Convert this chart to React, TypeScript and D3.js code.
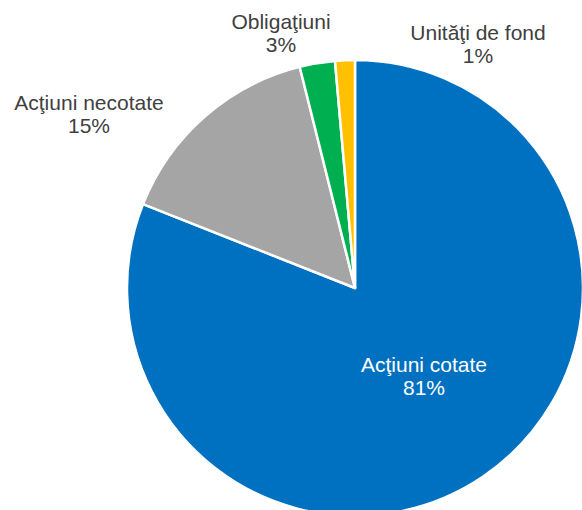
import { useEffect, useRef } from "react";
import * as d3 from "d3";

const categories = ["Acţiuni cotate", "Acţiuni necotate", "Obligaţiuni", "Unităţi de fond"];
const values = [81.0, 15.1, 2.5, 1.4];
const percentLabels = ["81%", "15%", "3%", "1%"];
const colors = ["#0070C0", "#A5A5A5", "#00B050", "#FFC000"];

// label anchor offsets from the pie centre (Excel-style manual placement)
const labelAnchors: [number, number][] = [
    [69, 95],
    [-266, -167],
    [-74, -248],
    [123, -237],
];

const WIDTH = 582;
const HEIGHT = 510;

const App = () => {
    const ref: any = useRef<SVGSVGElement>(null);

    useEffect(() => {
        const svg = d3.select(ref.current);
        svg.selectAll("*").remove();

        const cx = 355;
        const cy = 288;
        const radius = 228;

        const pie = d3.pie<number>().sort(null).value((d) => d);
        const arcData = pie(values);
        const arc: any = d3.arc().innerRadius(0).outerRadius(radius);

        const g = svg.append("g").attr("transform", `translate(${cx},${cy})`);

        g.selectAll("path")
            .data(arcData)
            .join("path")
            .attr("d", arc)
            .attr("fill", (_d, i) => colors[i])
            .attr("stroke", "#ffffff")
            .attr("stroke-width", 2.5)
            .attr("stroke-linejoin", "round");

        const labels = g
            .selectAll("text")
            .data(arcData)
            .join("text")
            .attr("text-anchor", "middle")
            .attr("font-family", "'Liberation Sans', Arial, sans-serif")
            .attr("font-size", 21)
            .attr("fill", (_d, i) => (i === 0 ? "#ffffff" : "#404040"))
            .attr("transform", (_d, i) => `translate(${labelAnchors[i][0]},${labelAnchors[i][1]})`);

        labels
            .append("tspan")
            .attr("x", 0)
            .attr("dy", -11.5)
            .text((_d, i) => categories[i]);
        labels
            .append("tspan")
            .attr("x", 0)
            .attr("dy", 23.5)
            .text((_d, i) => percentLabels[i]);
    }, []);

    return (
        <div style={{ position: "fixed", left: 0, top: 0, width: WIDTH, height: HEIGHT, background: "#fff" }}>
            <svg ref={ref} width={WIDTH} height={HEIGHT} />
        </div>
    );
};

export default App;
